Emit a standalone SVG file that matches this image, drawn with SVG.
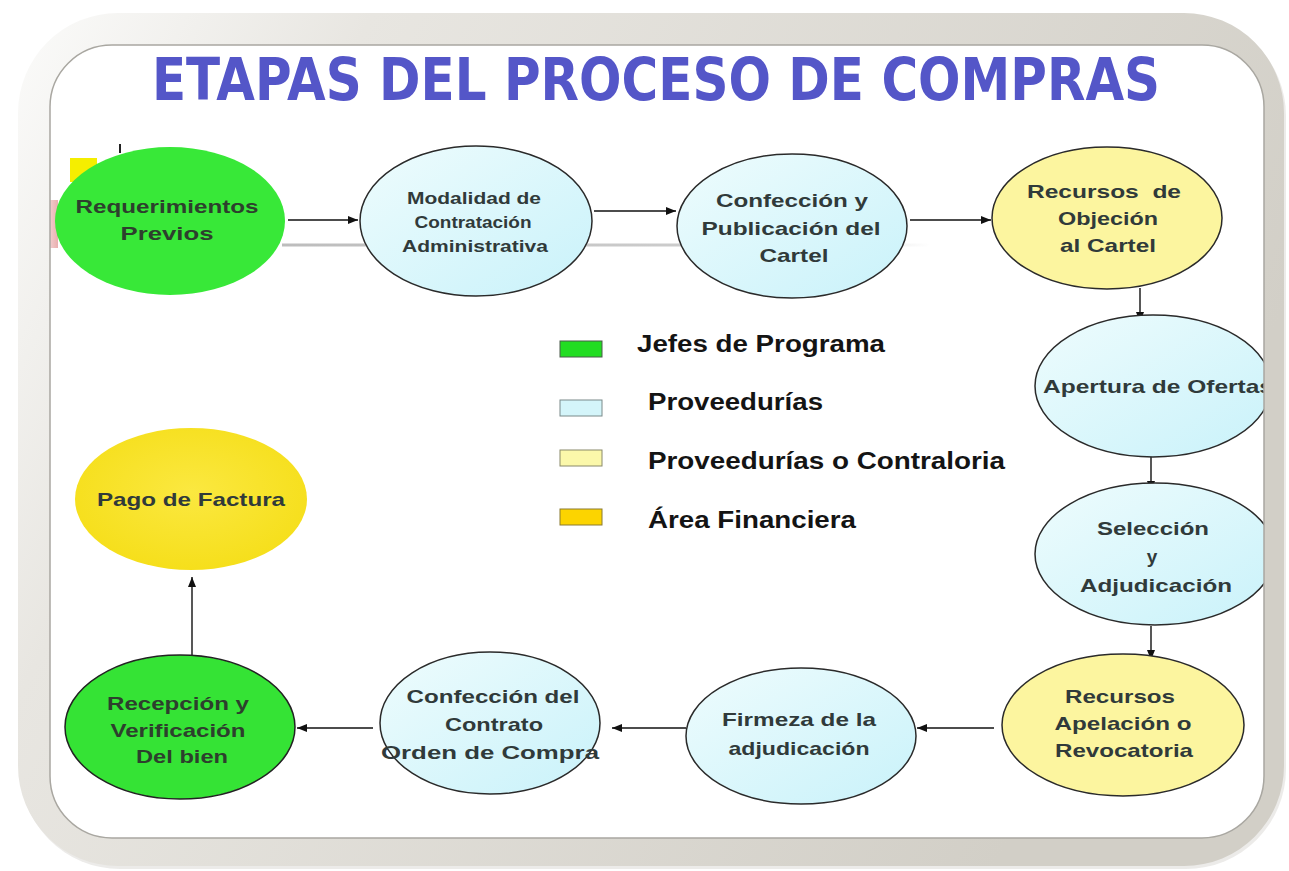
<svg xmlns="http://www.w3.org/2000/svg" width="1289" height="871" viewBox="0 0 1289 871">
<defs>
<style>
.t{font-family:"Liberation Sans",Arial,sans-serif;font-weight:bold;font-size:19px;fill:#303a3a;text-anchor:middle}
.tg{fill:#2d3f2d}
.ts{font-size:16px}
.lg{font-family:"Liberation Sans",Arial,sans-serif;font-weight:bold;font-size:23px;fill:#141414}
.cy{fill:url(#gCy);stroke:#2a2a2a;stroke-width:1.5}
.yl{fill:#fcf59f;stroke:#2a2a2a;stroke-width:1.5}
.gr{fill:#35e335;stroke:#222;stroke-width:1.5}
.cn{stroke:#111;stroke-width:1.4;fill:none;marker-end:url(#ah)}
</style>
<marker id="ah" viewBox="0 0 10 8" refX="10" refY="4" markerWidth="10" markerHeight="8" orient="auto" markerUnits="userSpaceOnUse">
<path d="M0,0 L10,4 L0,8 z" fill="#111"/>
</marker>
<linearGradient id="gCy" x1="0" y1="0" x2="1" y2="1">
<stop offset="0" stop-color="#eefcfd"/>
<stop offset="1" stop-color="#c9f2fa"/>
</linearGradient>
<radialGradient id="gPago" cx="0.5" cy="0.45" r="0.6">
<stop offset="0" stop-color="#fbe840"/>
<stop offset="1" stop-color="#f5de18"/>
</radialGradient>
<linearGradient id="gFrame" x1="0" y1="0" x2="1" y2="0.35">
<stop offset="0" stop-color="#fbfbfa"/>
<stop offset="0.25" stop-color="#e8e6e1"/>
<stop offset="1" stop-color="#d2cfc7"/>
</linearGradient>
<linearGradient id="gLine" gradientUnits="userSpaceOnUse" x1="282" y1="0" x2="930" y2="0">
<stop offset="0" stop-color="#bdbdbd"/>
<stop offset="0.8" stop-color="#d0d0d0"/>
<stop offset="1" stop-color="#ffffff"/>
</linearGradient>
<linearGradient id="gRed" x1="0" y1="0" x2="1" y2="0">
<stop offset="0" stop-color="#f4d8d8"/>
<stop offset="1" stop-color="#e49a9a"/>
</linearGradient>
<clipPath id="inner">
<rect x="50" y="45" width="1214" height="793" rx="62" ry="62"/>
</clipPath>
</defs>
<rect x="0" y="0" width="1289" height="871" fill="#ffffff"/>
<g id="frame">
<rect x="20" y="16" width="1266" height="853" rx="100" ry="100" fill="#c9c6bf" opacity="0.35"/>
<path fill-rule="evenodd" fill="url(#gFrame)" d="M118,13 H1184 A100,100 0 0 1 1284,113 V766 A100,100 0 0 1 1184,866 H118 A100,100 0 0 1 18,766 V113 A100,100 0 0 1 118,13 Z M112,45 H1202 A62,62 0 0 1 1264,107 V776 A62,62 0 0 1 1202,838 H112 A62,62 0 0 1 50,776 V107 A62,62 0 0 1 112,45 Z"/>
</g>
<rect x="50" y="45" width="1214" height="793" rx="62" ry="62" fill="#ffffff"/>
<text transform="translate(656,100) scale(1,1.18)" x="0" y="0" font-family="'DejaVu Sans',Verdana,sans-serif" font-weight="bold" font-size="50" fill="#5456c8" text-anchor="middle">ETAPAS DEL PROCESO DE COMPRAS</text>
<g clip-path="url(#inner)">
<g id="decor">
<rect x="45" y="200" width="13" height="48" fill="url(#gRed)" opacity="0.8"/>
<rect x="70" y="158" width="27" height="24" fill="#f5ee00"/>
<line x1="120" y1="144" x2="120" y2="153" stroke="#222" stroke-width="2"/>
<rect x="282" y="243.5" width="648" height="3" fill="url(#gLine)"/>
</g>
<g id="connectors">
<line class="cn" x1="288" y1="220" x2="358" y2="220"/>
<line class="cn" x1="594" y1="211" x2="676" y2="211"/>
<line class="cn" x1="910" y1="220" x2="991" y2="220"/>
<line class="cn" x1="1140" y1="288" x2="1140" y2="322"/>
<line class="cn" x1="1151" y1="457" x2="1151" y2="491"/>
<line class="cn" x1="1151" y1="626" x2="1151" y2="660"/>
<line class="cn" x1="994" y1="728" x2="917" y2="728"/>
<line class="cn" x1="686" y1="728" x2="612" y2="728"/>
<line class="cn" x1="373" y1="728" x2="297" y2="728"/>
<line class="cn" x1="192" y1="655" x2="192" y2="577"/>
</g>
<g id="n-requerimientos">
<ellipse cx="170" cy="221" rx="115" ry="74" fill="#38e838"/>
<text class="t tg" x="167" y="213" textLength="183" lengthAdjust="spacingAndGlyphs">Requerimientos</text>
<text class="t tg" x="167" y="240" textLength="93" lengthAdjust="spacingAndGlyphs">Previos</text>
</g>
<g id="n-modalidad">
<ellipse class="cy" cx="476" cy="221" rx="116" ry="75"/>
<text class="t ts" x="474" y="204" textLength="134" lengthAdjust="spacingAndGlyphs">Modalidad de</text>
<text class="t ts" x="473" y="228" textLength="117" lengthAdjust="spacingAndGlyphs">Contratación</text>
<text class="t ts" x="475" y="252" textLength="146" lengthAdjust="spacingAndGlyphs">Administrativa</text>
</g>
<g id="n-confeccion-cartel">
<ellipse class="cy" cx="792" cy="226" rx="115" ry="72"/>
<text class="t" x="792" y="207" textLength="152" lengthAdjust="spacingAndGlyphs">Confección y</text>
<text class="t" x="791" y="235" textLength="179" lengthAdjust="spacingAndGlyphs">Publicación del</text>
<text class="t" x="794" y="262" textLength="69" lengthAdjust="spacingAndGlyphs">Cartel</text>
</g>
<g id="n-objecion">
<ellipse class="yl" cx="1107" cy="218" rx="115" ry="71"/>
<text class="t" x="1104" y="198" textLength="154" lengthAdjust="spacingAndGlyphs" xml:space="preserve">Recursos  de</text>
<text class="t" x="1108" y="225" textLength="100" lengthAdjust="spacingAndGlyphs">Objeción</text>
<text class="t" x="1108" y="252" textLength="96" lengthAdjust="spacingAndGlyphs">al Cartel</text>
</g>
<g id="n-apertura">
<ellipse class="cy" cx="1153" cy="386" rx="118" ry="71"/>
<text class="t" x="1043" y="393" style="text-anchor:start" textLength="230" lengthAdjust="spacingAndGlyphs">Apertura de Ofertas</text>
</g>
<g id="n-seleccion">
<ellipse class="cy" cx="1155" cy="554" rx="120" ry="71"/>
<text class="t" x="1153" y="535" textLength="112" lengthAdjust="spacingAndGlyphs">Selección</text>
<text class="t" x="1152" y="563">y</text>
<text class="t" x="1156" y="592" textLength="152" lengthAdjust="spacingAndGlyphs">Adjudicación</text>
</g>
<g id="n-apelacion">
<ellipse class="yl" cx="1123" cy="725" rx="121" ry="71"/>
<text class="t" x="1120" y="703" textLength="110" lengthAdjust="spacingAndGlyphs">Recursos</text>
<text class="t" x="1123" y="730" textLength="137" lengthAdjust="spacingAndGlyphs">Apelación o</text>
<text class="t" x="1124" y="757" textLength="138" lengthAdjust="spacingAndGlyphs">Revocatoria</text>
</g>
<g id="n-firmeza">
<ellipse class="cy" cx="801" cy="736" rx="115" ry="68"/>
<text class="t" x="799" y="726" textLength="154" lengthAdjust="spacingAndGlyphs">Firmeza de la</text>
<text class="t" x="799" y="755" textLength="141" lengthAdjust="spacingAndGlyphs">adjudicación</text>
</g>
<g id="n-contrato">
<ellipse class="cy" cx="490" cy="723" rx="110" ry="71"/>
<text class="t" x="493" y="703" textLength="173" lengthAdjust="spacingAndGlyphs">Confección del</text>
<text class="t" x="494" y="731" textLength="98" lengthAdjust="spacingAndGlyphs">Contrato</text>
<text class="t" x="490" y="759" textLength="218" lengthAdjust="spacingAndGlyphs">Orden de Compra</text>
</g>
<g id="n-recepcion">
<ellipse class="gr" cx="180" cy="727" rx="115" ry="72"/>
<text class="t tg" x="178" y="710" textLength="142" lengthAdjust="spacingAndGlyphs">Recepción y</text>
<text class="t tg" x="178" y="737" textLength="135" lengthAdjust="spacingAndGlyphs">Verificación</text>
<text class="t tg" x="182" y="763" textLength="92" lengthAdjust="spacingAndGlyphs">Del bien</text>
</g>
<g id="n-pago">
<ellipse cx="191" cy="499" rx="116" ry="71" fill="url(#gPago)"/>
<text class="t" x="191" y="506" textLength="188" lengthAdjust="spacingAndGlyphs">Pago de Factura</text>
</g>
<g id="legend">
<rect x="560" y="341" width="42" height="16" fill="#22dd22" stroke="#4a5a4a" stroke-width="1"/>
<text class="lg" x="637" y="352" textLength="248" lengthAdjust="spacingAndGlyphs">Jefes de Programa</text>
<rect x="560" y="400" width="42" height="16" fill="#d4f5fa" stroke="#7a8a8a" stroke-width="1"/>
<text class="lg" x="648" y="410" textLength="175" lengthAdjust="spacingAndGlyphs">Proveedurías</text>
<rect x="560" y="450" width="42" height="16" fill="#fbf8aa" stroke="#8a8a6a" stroke-width="1"/>
<text class="lg" x="648" y="469" textLength="357" lengthAdjust="spacingAndGlyphs">Proveedurías o Contraloria</text>
<rect x="560" y="509" width="42" height="16" fill="#fcd400" stroke="#8a7a30" stroke-width="1"/>
<text class="lg" x="648" y="528" textLength="208" lengthAdjust="spacingAndGlyphs">Área Financiera</text>
</g>
</g>
<rect x="50" y="45" width="1214" height="793" rx="62" ry="62" fill="none" stroke="#a9a7a1" stroke-width="1.5"/>
</svg>
